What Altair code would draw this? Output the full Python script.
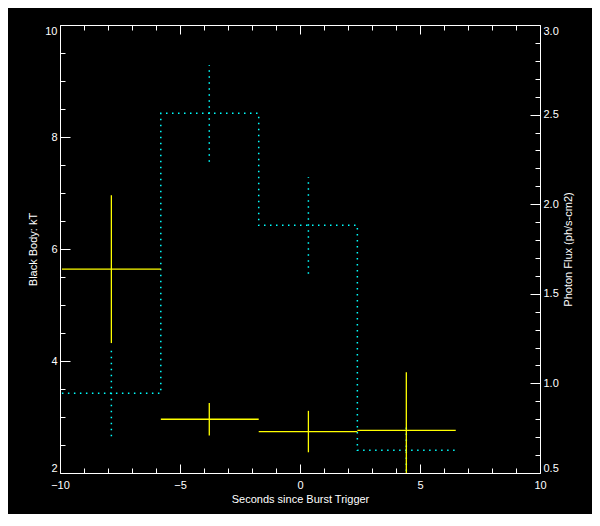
import altair as alt
import pandas as pd

# ---- data ----
bin_start = [-9.92, -5.80, -1.72, 2.39]
bin_end = [-5.80, -1.72, 2.39, 6.49]
t_center = [-7.86, -3.78, 0.35, 4.43]
kT = [5.64, 2.96, 2.74, 2.76]
kT_err = [1.32, 0.29, 0.37, 1.04]
flux = [0.945, 2.507, 1.882, 0.627]
flux_err = [0.24, 0.27, 0.27, 0.15]

# ---- axis tick values ----
x_major = [-10, -5, 0, 5, 10]
x_minor = [-10, -9, -8, -7, -6, -5, -4, -3, -2, -1, 0, 1, 2, 3, 4, 5, 6, 7, 8, 9, 10]
kT_major = [2, 4, 6, 8, 10]
kT_minor = [2, 2.5, 3, 3.5, 4, 4.5, 5, 5.5, 6, 6.5, 7, 7.5, 8, 8.5, 9, 9.5, 10]
flux_major = [0.5, 1.0, 1.5, 2.0, 2.5, 3.0]
flux_minor = [0.5, 0.6, 0.7, 0.8, 0.9, 1.0, 1.1, 1.2, 1.3, 1.4, 1.5, 1.6, 1.7, 1.8,
              1.9, 2.0, 2.1, 2.2, 2.3, 2.4, 2.5, 2.6, 2.7, 2.8, 2.9, 3.0]

YELLOW = "#ffff00"
CYAN = "#00ffff"
FONT = "Liberation Sans"

df = pd.DataFrame({
    "bin_start": bin_start, "bin_end": bin_end, "t_center": t_center,
    "kT": kT, "k_lo": [k - e for k, e in zip(kT, kT_err)],
    "k_hi": [k + e for k, e in zip(kT, kT_err)],
    "flux": flux, "f_lo": [f - e for f, e in zip(flux, flux_err)],
    "f_hi": [f + e for f, e in zip(flux, flux_err)],
})

step_rows = []
for i in range(len(flux)):
    step_rows.append({"t": bin_start[i], "f": flux[i], "i": 2 * i})
    step_rows.append({"t": bin_end[i], "f": flux[i], "i": 2 * i + 1})
step_df = pd.DataFrame(step_rows)

W, H = 480, 448
xs = alt.Scale(domain=[-10, 10], nice=False, zero=False)
ks = alt.Scale(domain=[2, 10], nice=False, zero=False)
fs = alt.Scale(domain=[0.5, 3.0], nice=False, zero=False)


def tick_size(major, big, small):
    return {"condition": {"test": f"indexof({major}, datum.value) >= 0", "value": big},
            "value": small}


x_label_axis = alt.Axis(orient="bottom", values=x_major, format="d", ticks=False,
                        domain=True, labelPadding=6, labelFlush=False,
                        title="Seconds since Burst Trigger", titlePadding=3)
x_bottom_in = alt.Axis(orient="top", offset=-H, values=x_minor, labels=False,
                       domain=False, title=None, tickSize=tick_size(x_major, 9, 5))
x_top_in = alt.Axis(orient="bottom", offset=-H, values=x_minor, labels=False,
                    domain=True, title=None, tickSize=tick_size(x_major, 9, 5))

k_label_axis = alt.Axis(orient="left", values=kT_major, format="d", ticks=False,
                        domain=True, labelPadding=3, labelFlush=True,
                        title="Black Body: kT", titlePadding=6)
k_in = alt.Axis(orient="right", offset=-W, values=kT_minor, labels=False,
                domain=False, title=None, tickSize=tick_size(kT_major, 10, 5))

f_label_axis = alt.Axis(orient="right", values=flux_major, format=".1f", ticks=False,
                        domain=True, labelPadding=3, labelFlush=True,
                        title="Photon Flux (ph/s-cm2)", titleAngle=270, titlePadding=15)
f_in = alt.Axis(orient="left", offset=-W, values=flux_minor, labels=False,
                domain=False, title=None, tickSize=tick_size(flux_major, 10, 5))

flux_step = alt.Chart(step_df).mark_line(
    color=CYAN, strokeWidth=1.5, strokeDash=[1.5, 4.5]
).encode(
    x=alt.X("t:Q", scale=xs, axis=x_label_axis),
    y=alt.Y("f:Q", scale=fs, axis=f_label_axis),
    order="i:Q",
)

flux_err_rule = alt.Chart(df).mark_rule(
    color=CYAN, strokeWidth=1.5, strokeDash=[1.5, 4.5], clip=True
).encode(
    x=alt.X("t_center:Q", scale=xs, axis=None),
    y=alt.Y("f_lo:Q", scale=fs, axis=f_in),
    y2="f_hi:Q",
)

kT_bar = alt.Chart(df).mark_rule(color=YELLOW, strokeWidth=1.3).encode(
    x=alt.X("bin_start:Q", scale=xs, axis=x_bottom_in),
    x2="bin_end:Q",
    y=alt.Y("kT:Q", scale=ks, axis=k_label_axis),
)

kT_err_rule = alt.Chart(df).mark_rule(color=YELLOW, strokeWidth=1.3, clip=True).encode(
    x=alt.X("t_center:Q", scale=xs, axis=x_top_in),
    y=alt.Y("k_lo:Q", scale=ks, axis=k_in),
    y2="k_hi:Q",
)

chart = alt.layer(flux_step, flux_err_rule, kT_bar, kT_err_rule).resolve_scale(
    y="independent"
).resolve_axis(
    x="independent", y="independent"
).properties(
    width=W, height=H,
    padding={"left": 52, "top": 17, "right": 52, "bottom": 41},
    autosize=alt.AutoSizeParams(type="none"),
    background="black",
).configure_view(
    strokeWidth=0
).configure_axis(
    grid=False,
    domainColor="white", domainWidth=1,
    tickColor="white", tickWidth=1,
    labelColor="white", labelFont=FONT, labelFontSize=11,
    titleColor="white", titleFont=FONT, titleFontSize=11, titleFontWeight="normal",
)

chart.save("out.html", embed_options={"renderer": "svg", "actions": False})
